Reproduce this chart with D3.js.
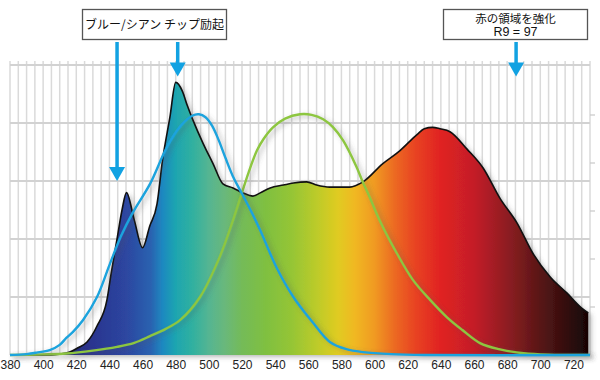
<!DOCTYPE html>
<html>
<head>
<meta charset="utf-8">
<script src="https://cdn.jsdelivr.net/npm/d3@7"></script>
<style>
  html, body { margin: 0; padding: 0; background: #fff; }
  svg { display: block; }
  .ax text { font-family: "Liberation Sans", Arial, sans-serif; font-size: 12px; fill: #222; }
</style>
</head>
<body>
<svg id="chart" width="600" height="380"></svg>
<script>
// ---- data ----
const xTickLabels = [380,400,420,440,460,480,500,520,540,560,580,600,620,640,660,680,700,720];
const yGridValues = [20,40,60,80,100];
const rightTickValues = [1,2,3,4,5];

// emission spectrum [wavelength nm, relative intensity]
const spectrum = [
  [380,0],[405,0],[410,0.3],[416,1],[421,2.5],[426.5,4.5],[432.5,10],[438.5,19],[441,28],
  [444.6,40],[447.6,50],[450.3,56],[455,46.5],[460,37],[464.3,44.4],[468.7,52],[472,67],
  [476.5,82],[480,94],[484,91],[487,86],[490.4,81],[496.5,73],[502.5,66],[508.5,59],
  [514.6,57.6],[520.6,55.9],[526.6,54.8],[531,55.9],[537,57.6],[545,58.6],[551,59.3],
  [559,59.7],[565,58.6],[573,57.9],[585,57.9],[593,59.7],[605,66],[615,70.3],[625.6,76],
  [630,78],[635,78.5],[639.5,78],[645.5,77],[655.8,71],[665.5,64.5],[675.7,54],[686,45.5],
  [695.6,35],[706,26.9],[716,21.4],[725,16.2],[729,14.5]
];
// blue curve
const blueCurve = [
  [380,0],[390,0.3],[396,0.8],[404,1.7],[410,3.5],[414,5.9],[418,8],[424,12],[432.5,20],
  [440,31],[447,41],[454,49],[464.5,59],[474.7,71.7],[483,79],[490,82.5],[494,83],[498,82],
  [502,79],[506,74],[510,68],[515,61],[520.6,55],[526,49],[531,43],[541,30],[551,20],
  [563,11],[573,4.5],[583,2],[593,1],[610,0.3],[630,0],[730,0]
];
// green curve
const greenCurve = [
  [380,0],[400,0.2],[414,0.5],[430,1.5],[444.6,2.8],[455,4.2],[464.5,6.5],[474,9],
  [482.6,12],[494.7,20],[506.7,34],[514.6,46.5],[520,56],[524,63],[529,70.5],[533,74.5],
  [538.7,78.5],[546,81.5],[555,83],[562,82.8],[569,81.3],[575,78.5],[581,74],[589,65],
  [593,59.5],[597,54.5],[603,46.5],[613.5,35],[623,26],[633.5,19],[643.7,13],[653,8.6],
  [663.6,4.1],[675,2],[690,0.6],[705,0.1],[730,0]
];
// annotation arrows [wavelength, tip value]
const arrowTargets = [[444.6,60],[481.2,96],[685.4,96]];
const labelBlue = "ブルー/シアン チップ励起";
const labelRed = ["赤の領域を強化", "R9 = 97"];

// spectral gradient stops [wavelength, colour]
const gradientStops = [
  [380,"#1c1a5a"],[415,"#262a7a"],[430,"#2a3590"],[450,"#2d46a0"],[465,"#2a62b0"],
  [472,"#1e88c0"],[480,"#1ea5b0"],[490,"#30b0a0"],[500,"#55b592"],[510,"#6ab87a"],
  [520,"#74bb58"],[535,"#80c040"],[550,"#95c535"],[565,"#bccb2a"],[578,"#e0cb20"],
  [588,"#f0b820"],[600,"#f09a20"],[612,"#ec6a20"],[625,"#e84222"],[640,"#e02222"],
  [660,"#c41e28"],[680,"#8e1e22"],[700,"#581616"],[718,"#2e0c0c"],[730,"#140404"]
];

// ---- layout ----
const svg = d3.select("#chart");
const x = d3.scaleLinear().domain([380, 730]).range([10, 590]);
const y = d3.scaleLinear().domain([0, 100]).range([355, 65]);
const yR = d3.scaleLinear().domain([0, 290/48]).range([355, 65]);

const defs = svg.append("defs");
const grad = defs.append("linearGradient").attr("id","spec")
  .attr("gradientUnits","userSpaceOnUse")
  .attr("x1", x(380)).attr("x2", x(730)).attr("y1",0).attr("y2",0);
gradientStops.forEach(([w,c]) => grad.append("stop")
  .attr("offset", (w-380)/350).attr("stop-color", c));

const sh = defs.append("filter").attr("id","shadow")
  .attr("x","-10%").attr("y","-10%").attr("width","130%").attr("height","130%");
sh.append("feDropShadow").attr("dx",3).attr("dy",2).attr("stdDeviation",2.5)
  .attr("flood-color","#555").attr("flood-opacity",0.4);

// grid
const vGrid = d3.range(380, 730.1, 5);
svg.append("g").selectAll("line").data(vGrid).join("line")
  .attr("x1", d => x(d)).attr("x2", d => x(d))
  .attr("y1", 61).attr("y2", y(0))
  .attr("stroke", "#dadada").attr("stroke-width", 1.5);
svg.append("g").selectAll("line").data(yGridValues).join("line")
  .attr("x1", x(380)).attr("x2", x(730))
  .attr("y1", d => y(d)).attr("y2", d => y(d))
  .attr("stroke", "#d2d2d2").attr("stroke-width", 2);
svg.append("g").selectAll("line").data(rightTickValues).join("line")
  .attr("x1", x(730)).attr("x2", x(730) + 5)
  .attr("y1", d => yR(d)).attr("y2", d => yR(d))
  .attr("stroke", "#c8c8c8").attr("stroke-width", 1.2);

// spectrum area
const area = d3.area().x(d => x(d[0])).y0(y(0)).y1(d => y(d[1])).curve(d3.curveMonotoneX);
const line = d3.line().x(d => x(d[0])).y(d => y(d[1])).curve(d3.curveMonotoneX);
const smooth = d3.line().x(d => x(d[0])).y(d => Math.min(y(0), y(d[1]))).curve(d3.curveCatmullRom.alpha(0.5));

svg.append("path").datum(spectrum)
  .attr("d", area).attr("fill","url(#spec)").attr("filter","url(#shadow)");
svg.append("path").datum(spectrum)
  .attr("d", line).attr("fill","none").attr("stroke","#111").attr("stroke-width",1.6)
  .attr("stroke-linejoin","round");

// curves
svg.append("path").datum(greenCurve)
  .attr("d", smooth).attr("fill","none").attr("stroke","#8dc63f").attr("stroke-width",2.4)
  .attr("filter","url(#shadow)");
svg.append("path").datum(blueCurve)
  .attr("d", smooth).attr("fill","none").attr("stroke","#1aa3dd").attr("stroke-width",2.4)
  .attr("filter","url(#shadow)");

// x axis
const ax = svg.append("g").attr("class","ax").attr("transform",`translate(0,${y(0)})`)
  .call(d3.axisBottom(x).tickValues(xTickLabels).tickSize(0).tickPadding(5.5).tickFormat(d3.format("d")));
ax.select(".domain").remove();

// arrows
const arrowColor = "#12a2e2";
const tailY = 42;
arrowTargets.forEach(([w,v]) => {
  const ax0 = x(w), tip = y(v);
  svg.append("line").attr("x1", ax0).attr("x2", ax0).attr("y1", tailY).attr("y2", tip - 10)
    .attr("stroke", arrowColor).attr("stroke-width", 3.5);
  svg.append("path")
    .attr("d", `M${ax0-8},${tip-14}L${ax0+8},${tip-14}L${ax0},${tip}Z`)
    .attr("fill", arrowColor);
});

// label boxes
const jp = '"Noto Sans CJK JP", "Liberation Sans", sans-serif';
svg.append("rect").attr("x", 82.5).attr("y", 9.5).attr("width", 144).attr("height", 30)
  .attr("fill","#fff").attr("stroke","#555").attr("stroke-width",1.3);
svg.append("text").attr("x", 154.5).attr("y", 28.5).attr("text-anchor","middle")
  .style("font-family", jp).style("font-size","12px").attr("fill","#111").text(labelBlue);

svg.append("rect").attr("x", 443.5).attr("y", 9.5).attr("width", 144).attr("height", 30)
  .attr("fill","#fff").attr("stroke","#555").attr("stroke-width",1.3);
svg.append("text").attr("x", 515.5).attr("y", 22.5).attr("text-anchor","middle")
  .style("font-family", jp).style("font-size","11.5px").attr("fill","#111").text(labelRed[0]);
svg.append("text").attr("x", 515.5).attr("y", 36).attr("text-anchor","middle")
  .style("font-family", '"Liberation Sans", Arial, sans-serif').style("font-size","12.5px").attr("fill","#111").text(labelRed[1]);
</script>
</body>
</html>
